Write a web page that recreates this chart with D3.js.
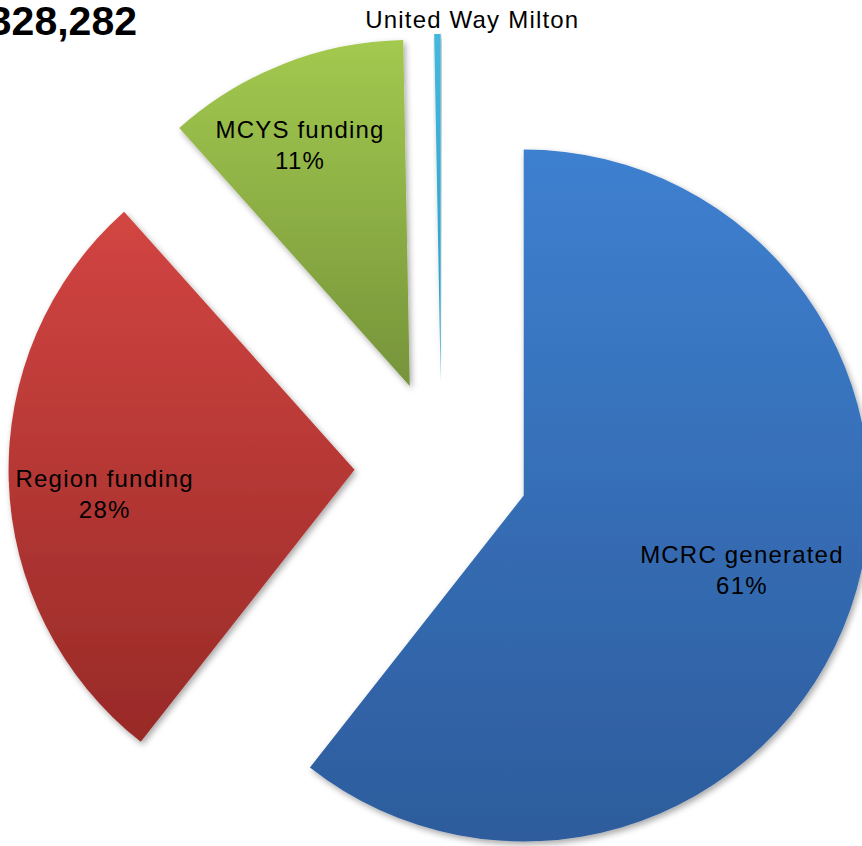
<!DOCTYPE html>
<html>
<head>
<meta charset="utf-8">
<script src="https://cdn.jsdelivr.net/npm/d3@7"></script>
<style>
  html, body { margin: 0; padding: 0; background: #fff; overflow: hidden; }
  svg { display: block; }
  text { font-family: "Liberation Sans", Arial, sans-serif; }
</style>
</head>
<body>
<svg id="chart" width="862" height="846"></svg>
<script>
// ---- data ----
const titleText = "328,282";
const categories = ["MCRC generated", "Region funding", "MCYS funding", "United Way Milton"];
const values = [60.6, 27.8, 11.3, 0.3];
const colorsTop = ["#3e80d0", "#d24542", "#a3c94f", "#45b8de"];
const colorsBottom = ["#2d5c9c", "#982a27", "#76943a", "#2a9cc4"];

// ---- layout ----
const W = 862, H = 846;
const cx = 441.5, cy = 467;
const R = 346;
const explode = 87;
const labelRadius = [233, 250, 262, null];
const labelShift = [[-2, -3], [0, 15], [-14, 2], [35, 0]];

const svg = d3.select("#chart");
const defs = svg.append("defs");

const shadow = defs.append("filter").attr("id", "shadow")
  .attr("x", "-10%").attr("y", "-10%").attr("width", "120%").attr("height", "120%");
shadow.append("feDropShadow").attr("dx", 2).attr("dy", 3)
  .attr("stdDeviation", 3).attr("flood-color", "#000").attr("flood-opacity", 0.35);

categories.forEach((c, i) => {
  const g = defs.append("linearGradient").attr("id", "grad" + i)
    .attr("x1", 0).attr("y1", 0).attr("x2", 0).attr("y2", 1);
  g.append("stop").attr("offset", "0%").attr("stop-color", colorsTop[i]);
  g.append("stop").attr("offset", "100%").attr("stop-color", colorsBottom[i]);
});

const data = categories.map((c, i) => ({ name: c, value: values[i], i }));
const total = d3.sum(values);

const pie = d3.pie().sort(null).startAngle(0).endAngle(2 * Math.PI).value(d => d.value);
const arcs = pie(data);
const arc = d3.arc().innerRadius(0).outerRadius(R);

const dir = a => [Math.sin(a), -Math.cos(a)];

const gPie = svg.append("g").attr("transform", `translate(${cx},${cy})`);

const slices = gPie.selectAll("g.slice").data(arcs).enter().append("g")
  .attr("class", "slice")
  .attr("transform", d => {
    const m = (d.startAngle + d.endAngle) / 2;
    const [ux, uy] = dir(m);
    return `translate(${ux * explode},${uy * explode})`;
  });

slices.append("path")
  .attr("d", arc)
  .attr("fill", d => `url(#grad${d.data.i})`)
  .attr("filter", "url(#shadow)");

// labels
const pct = d3.format(".0%");
slices.each(function(d) {
  const g = d3.select(this);
  const m = (d.startAngle + d.endAngle) / 2;
  const [ux, uy] = dir(m);
  const share = d.data.value / total;
  const lr = labelRadius[d.data.i];
  const [sx, sy] = labelShift[d.data.i];
  const t = g.append("text")
    .attr("text-anchor", "middle")
    .attr("font-size", 24)
    .attr("letter-spacing", 1.2)
    .attr("fill", "#000");
  if (lr != null) {
    const x = ux * lr + sx, y = uy * lr + sy;
    t.append("tspan").attr("x", x).attr("y", y - 6).text(d.data.name);
    t.append("tspan").attr("x", x).attr("y", y + 25).text(pct(share));
  } else {
    // small slice: label outside the pie
    t.attr("x", ux * (R + 14) + sx)
     .attr("y", uy * (R + 14) + 8 + sy)
     .text(d.data.name);
  }
});

// title (cropped at the left edge as in the source)
svg.append("text")
  .attr("x", 137).attr("y", 35)
  .attr("text-anchor", "end")
  .attr("font-size", 41)
  .attr("font-weight", "bold")
  .attr("fill", "#000")
  .text(titleText);
</script>
</body>
</html>
